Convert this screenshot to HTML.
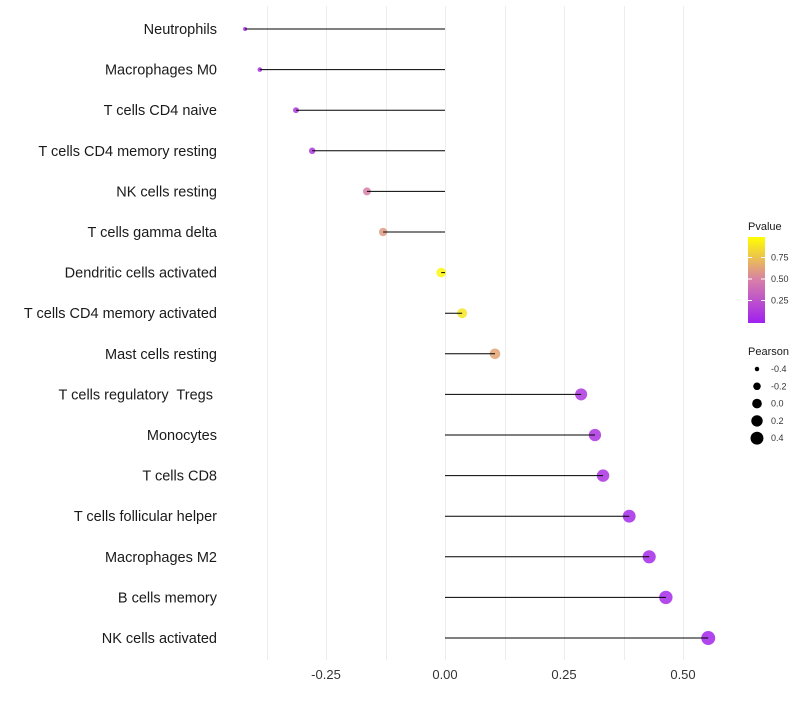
<!DOCTYPE html>
<html><head><meta charset="utf-8"><style>
body{margin:0;background:#fff;font-family:"Liberation Sans",sans-serif}
svg text{font-family:"Liberation Sans",sans-serif}
</style></head><body>
<svg id="c" width="800" height="700"></svg>
<script>
const categories=["Neutrophils","Macrophages M0","T cells CD4 naive","T cells CD4 memory resting","NK cells resting","T cells gamma delta","Dendritic cells activated","T cells CD4 memory activated","Mast cells resting","T cells regulatory  Tregs ","Monocytes","T cells CD8","T cells follicular helper","Macrophages M2","B cells memory","NK cells activated"];
const pearson=[-0.42,-0.389,-0.313,-0.279,-0.164,-0.130,-0.008,0.036,0.105,0.286,0.315,0.332,0.387,0.429,0.464,0.553];
const pvalues=[0.05,0.08,0.12,0.12,0.5,0.6,0.97,0.9,0.65,0.12,0.1,0.1,0.05,0.05,0.05,0.03];
const xTicks=[-0.25,0,0.25,0.5];
const xTickLabels=["-0.25","0.00","0.25","0.50"];
const pLegendTicks=[0.25,0.5,0.75];
const sizeLegend=[-0.4,-0.2,0.0,0.2,0.4];
const NS="http://www.w3.org/2000/svg";
const svg=document.getElementById('c');
function el(t,a,p){const e=document.createElementNS(NS,t);for(const k in a)e.setAttribute(k,a[k]);(p||svg).appendChild(e);return e;}
const x=v=>445+v*476;
const y=i=>29+i*40.6;
const r=v=>Math.sqrt(4+46*(v+0.42));
function mix(a,b,t){return a.map((c,i)=>Math.round(c+(b[i]-c)*t));}
function col(p){const s=[[160,32,240],[215,127,168],[255,255,0]];const c=p<0.5?mix(s[0],s[1],p/0.5):mix(s[1],s[2],(p-0.5)/0.5);return `rgb(${c.join(',')})`;}
for(let g=-0.375;g<=0.5001;g+=0.125){const gx=Math.round(x(g))+0.5;const l=el('line',{x1:gx,x2:gx,y1:6,y2:660,stroke:'#ededed','stroke-width':1});

}
xTicks.forEach((t,i)=>{const tx=el('text',{x:x(t),y:679,'text-anchor':'middle','font-size':13,fill:'#333'});tx.textContent=xTickLabels[i];

});
categories.forEach((c,i)=>{
const t=el('text',{x:217,y:y(i)+5,'text-anchor':'end','font-size':14.5,fill:'#1a1a1a','xml:space':'preserve'});t.textContent=c;
t.style.whiteSpace='pre';


const d=el('circle',{cx:x(pearson[i]),cy:y(i),r:r(pearson[i]),fill:col(pvalues[i]),'fill-opacity':0.85});


const l=el('line',{x1:x(0),x2:x(pearson[i]),y1:y(i),y2:y(i),stroke:'#000','stroke-width':1});


});
const defs=el('defs',{});const lg=el('linearGradient',{id:'g',x1:0,y1:1,x2:0,y2:0},defs);
[0,0.25,0.5,0.75,1].forEach(o=>el('stop',{offset:o,'stop-color':col(o)},lg));
let t=el('text',{x:748,y:230,'font-size':11,fill:'#1a1a1a'});t.textContent='Pvalue';


const cb=el('rect',{x:748,y:237,width:17,height:86,fill:'url(#g)'});


pLegendTicks.forEach(v=>{const yy=322-v*86;el('line',{x1:748,x2:752,y1:yy,y2:yy,stroke:'#fff'});el('line',{x1:761,x2:765,y1:yy,y2:yy,stroke:'#fff'});
const tt=el('text',{x:771,y:yy+3,'font-size':9,fill:'#333'});tt.textContent=v.toFixed(2);

});
t=el('text',{x:748,y:355,'font-size':11,fill:'#1a1a1a'});t.textContent='Pearson';


sizeLegend.forEach((v,i)=>{const yy=369+i*17.3;const c=el('circle',{cx:757,cy:yy,r:r(v),fill:'#000'});


const tt=el('text',{x:771,y:yy+3,'font-size':9,fill:'#333'});tt.textContent=v.toFixed(1);

});
</script>
</body></html>
